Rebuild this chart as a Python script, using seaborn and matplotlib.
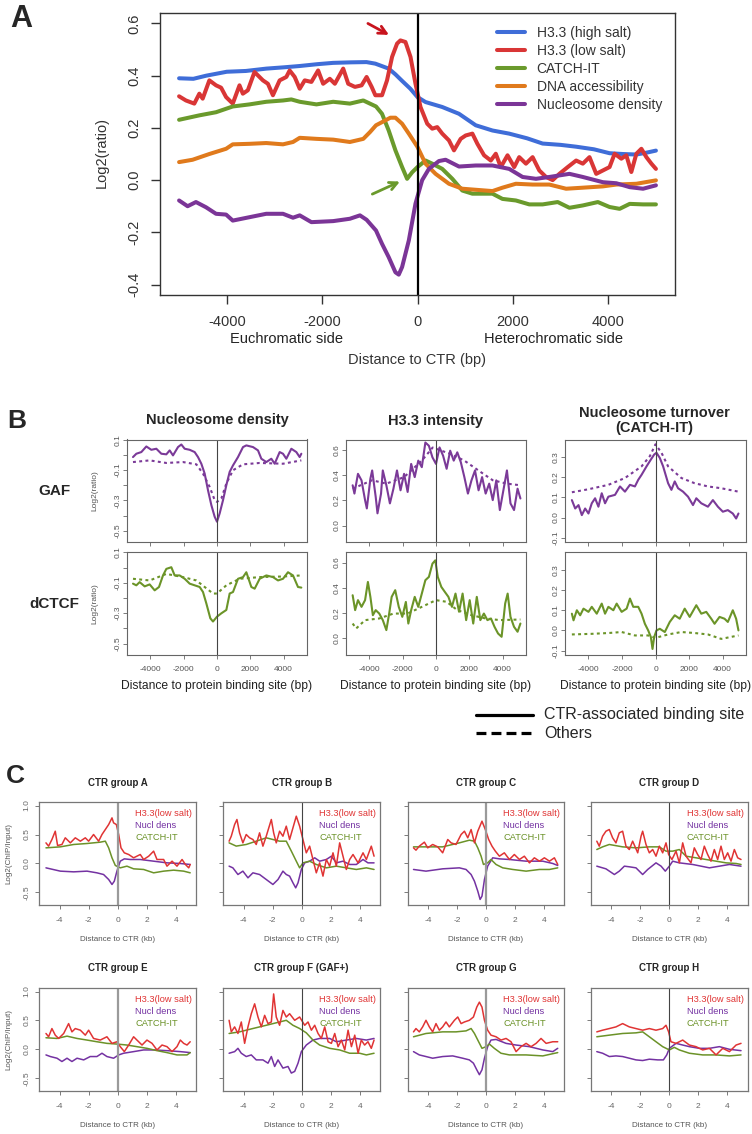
import matplotlib
matplotlib.use("Agg")
import matplotlib.pyplot as plt
from matplotlib.lines import Line2D
import seaborn as sns

# ---------------- Panel A : profiles around CTR (bp, log2 ratio) ----------------
a_blue_x = [-5000, -4700, -4430, -4000, -3600, -3170, -2800, -2470, -2100, -1770, -1400, -1070, -884, -604, -463,
            -323, -150, 0, 168, 519, 870, 1221, 1572, 1923, 2300, 2624, 3000, 3326, 3700, 4028, 4300, 4589, 4800, 5000]
a_blue_y = [0.39, 0.388, 0.40, 0.415, 0.418, 0.427, 0.432, 0.437, 0.444, 0.449, 0.451, 0.452, 0.446, 0.427, 0.405,
            0.38, 0.35, 0.318, 0.299, 0.28, 0.254, 0.21, 0.19, 0.178, 0.16, 0.14, 0.135, 0.128, 0.118, 0.103, 0.1,
            0.098, 0.105, 0.113]

a_red_x = [-5000, -4856, -4681, -4575, -4505, -4365, -4225, -4119, -4014, -3874, -3733, -3663, -3558, -3418, -3242,
           -3137, -3032, -2891, -2751, -2681, -2575, -2470, -2365, -2225, -2084, -1979, -1839, -1733, -1558, -1453,
           -1312, -1172, -1067, -961, -884, -744, -639, -533, -428, -358, -253, -147, -42, 63, 204, 309, 414, 519,
           660, 765, 905, 1011, 1151, 1256, 1396, 1537, 1642, 1747, 1888, 2028, 2133, 2274, 2414, 2554, 2695, 2835,
           2976, 3151, 3327, 3467, 3607, 3748, 3888, 4028, 4134, 4274, 4379, 4484, 4590, 4695, 4800, 4905, 5000]
a_red_y = [0.321, 0.305, 0.293, 0.331, 0.312, 0.382, 0.363, 0.354, 0.318, 0.293, 0.363, 0.331, 0.344, 0.414, 0.382,
           0.369, 0.325, 0.382, 0.395, 0.42, 0.395, 0.35, 0.382, 0.376, 0.42, 0.369, 0.388, 0.369, 0.427, 0.369,
           0.357, 0.363, 0.395, 0.357, 0.325, 0.325, 0.382, 0.472, 0.523, 0.535, 0.529, 0.472, 0.369, 0.28, 0.216,
           0.197, 0.203, 0.178, 0.152, 0.114, 0.158, 0.171, 0.178, 0.139, 0.095, 0.075, 0.101, 0.05, 0.095, 0.05,
           0.088, 0.063, 0.088, 0.037, 0.012, 0.0, 0.024, 0.05, 0.075, 0.063, 0.088, 0.024, 0.037, 0.05, 0.101,
           0.082, 0.095, 0.031, 0.101, 0.12, 0.088, 0.063, 0.043]

a_green_x = [-5000, -4575, -4225, -3874, -3523, -3172, -2821, -2646, -2470, -2119, -1768, -1418, -1137, -870, -744,
             -604, -463, -323, -218, -112, 0, 168, 309, 519, 730, 940, 1151, 1361, 1572, 1782, 2063, 2344, 2625,
             2940, 3186, 3467, 3783, 4028, 4239, 4450, 4730, 5000]
a_green_y = [0.231, 0.248, 0.26, 0.282, 0.29, 0.30, 0.305, 0.309, 0.30, 0.29, 0.30, 0.293, 0.305, 0.282, 0.254,
             0.19, 0.114, 0.05, 0.005, 0.03, 0.05, 0.075, 0.063, 0.043, 0.005, -0.04, -0.052, -0.052, -0.052,
             -0.072, -0.078, -0.093, -0.093, -0.084, -0.106, -0.097, -0.084, -0.103, -0.11, -0.091, -0.093, -0.093]

a_orange_x = [-5000, -4716, -4365, -4014, -3874, -3523, -3172, -2821, -2611, -2470, -2119, -1768, -1418, -1137, -996,
              -870, -744, -569, -463, -323, -182, 0, 168, 379, 660, 940, 1221, 1572, 1782, 2063, 2414, 2765, 3116,
              3467, 3888, 4169, 4590, 5000]
a_orange_y = [0.069, 0.078, 0.10, 0.12, 0.137, 0.139, 0.142, 0.137, 0.146, 0.162, 0.158, 0.155, 0.146, 0.158, 0.184,
              0.21, 0.222, 0.239, 0.239, 0.216, 0.178, 0.127, 0.063, 0.024, -0.014, -0.033, -0.037, -0.042, -0.029,
              -0.014, -0.017, -0.017, -0.033, -0.029, -0.024, -0.017, -0.014, -0.001]

a_purple_x = [-5000, -4821, -4646, -4435, -4225, -4014, -3874, -3523, -3172, -2821, -2611, -2470, -2225, -1768, -1418,
              -1207, -1067, -870, -744, -604, -463, -393, -323, -182, -42, 98, 239, 449, 589, 870, 1221, 1572, 1923,
              2204, 2484, 2765, 3186, 3467, 3888, 4169, 4450, 4730, 5000]
a_purple_y = [-0.078, -0.10, -0.084, -0.104, -0.129, -0.132, -0.155, -0.142, -0.129, -0.129, -0.144, -0.135, -0.161,
              -0.157, -0.148, -0.135, -0.152, -0.193, -0.244, -0.295, -0.353, -0.362, -0.333, -0.231, -0.09, 0.0,
              0.043, 0.073, 0.078, 0.052, 0.056, 0.056, 0.043, 0.012, 0.005, 0.012, 0.024, 0.012, -0.008, -0.012,
              -0.027, -0.033, -0.02]

a_labels = ["H3.3 (high salt)", "H3.3 (low salt)", "CATCH-IT", "DNA accessibility", "Nucleosome density"]
a_colors = ["#3F6DD8", "#D93636", "#6A9A2C", "#E07A1C", "#7B3597"]

# ---------------- Panel B : binding-site profiles (bp) ----------------
# GAF, nucleosome density
b_gn_x = [-5040, -4840, -4540, -4240, -3940, -3640, -3340, -3040, -2840, -2640, -2340, -2140, -1940, -1640, -1340,
          -1140, -940, -740, -540, -340, -140, 0, 160, 360, 560, 760, 960, 1260, 1560, 1760, 2160, 2460, 2660, 2960,
          3260, 3460, 3760, 3960, 4160, 4460, 4760, 4960, 5060]
b_gn_y = [-0.014, 0.008, 0.019, 0.056, 0.034, 0.041, 0.008, 0.004, 0.030, -0.003, 0.052, 0.069, 0.041, 0.034, 0.019,
          -0.014, -0.058, -0.123, -0.233, -0.331, -0.408, -0.441, -0.386, -0.299, -0.2, -0.112, -0.069, -0.014,
          0.052, 0.063, 0.052, 0.030, -0.025, -0.047, -0.025, -0.058, 0.019, 0.008, -0.025, 0.041, 0.019, -0.014,
          0.008]
b_gn_dx = [-5040, -4040, -3040, -2040, -1240, -840, -440, -140, 0, 260, 560, 960, 1560, 2560, 3960, 5060]
b_gn_dy = [-0.047, -0.036, -0.053, -0.047, -0.062, -0.123, -0.211, -0.298, -0.31, -0.288, -0.189, -0.101, -0.062,
           -0.053, -0.058, -0.036]
# dCTCF, nucleosome density
b_cn_x = [-5040, -4840, -4640, -4340, -4040, -3740, -3480, -3240, -3040, -2740, -2540, -2240, -1940, -1640, -1340,
          -1040, -840, -640, -400, -240, 0, 260, 560, 760, 960, 1260, 1560, 1760, 2060, 2260, 2560, 2960, 3360,
          3660, 3960, 4260, 4560, 4860, 5060]
b_cn_y = [-0.106, -0.117, -0.096, -0.124, -0.111, -0.150, -0.128, -0.052, -0.009, 0.002, -0.052, -0.052, -0.074,
          -0.106, -0.117, -0.128, -0.161, -0.236, -0.334, -0.355, -0.323, -0.301, -0.279, -0.171, -0.161, -0.074,
          -0.063, -0.031, -0.128, -0.139, -0.074, -0.052, -0.063, -0.085, -0.074, -0.031, -0.052, -0.128, -0.132]
b_cn_dx = [-5040, -4040, -3040, -2040, -1240, -740, -240, 0, 560, 1360, 2560, 3960, 5060]
b_cn_dy = [-0.074, -0.085, -0.042, -0.063, -0.085, -0.128, -0.171, -0.171, -0.117, -0.074, -0.063, -0.059, -0.052]
# GAF, H3.3 intensity
b_gh_x = [-5001, -4894, -4682, -4469, -4256, -4150, -3937, -3830, -3618, -3511, -3298, -3192, -2979, -2766, -2554,
          -2341, -2128, -1915, -1702, -1490, -1277, -1064, -851, -638, -426, -213, 0, 213, 426, 638, 851, 1064, 1277,
          1490, 1702, 1915, 2128, 2341, 2554, 2766, 2979, 3192, 3405, 3618, 3830, 4043, 4256, 4469, 4682, 4894, 5065]
b_gh_y = [0.320, 0.254, 0.411, 0.359, 0.202, 0.136, 0.372, 0.438, 0.228, 0.097, 0.254, 0.438, 0.320, 0.176, 0.293,
          0.438, 0.280, 0.411, 0.267, 0.490, 0.385, 0.516, 0.464, 0.660, 0.634, 0.542, 0.490, 0.621, 0.555, 0.451,
          0.595, 0.516, 0.582, 0.503, 0.385, 0.254, 0.359, 0.438, 0.280, 0.385, 0.254, 0.333, 0.202, 0.359, 0.123,
          0.280, 0.438, 0.176, 0.123, 0.293, 0.215]
b_gh_dx = [-5001, -3830, -2979, -1915, -851, -200, 851, 1702, 2554, 3405, 4256, 5065]
b_gh_dy = [0.293, 0.36, 0.333, 0.385, 0.516, 0.62, 0.57, 0.516, 0.437, 0.36, 0.333, 0.32]
# dCTCF, H3.3 intensity
b_ch_x = [-5001, -4852, -4682, -4469, -4256, -4086, -3937, -3788, -3618, -3405, -3192, -2979, -2809, -2660, -2447,
          -2234, -2022, -1809, -1660, -1490, -1277, -1064, -851, -638, -426, -213, -43, 106, 319, 532, 745, 958,
          1170, 1383, 1596, 1809, 2022, 2234, 2447, 2660, 2873, 3086, 3298, 3511, 3724, 3937, 4150, 4299, 4469,
          4682, 4894, 5065]
b_ch_y = [0.342, 0.224, 0.303, 0.250, 0.303, 0.447, 0.329, 0.184, 0.224, 0.197, 0.145, 0.066, 0.197, 0.329, 0.382,
          0.250, 0.171, 0.289, 0.118, 0.224, 0.329, 0.250, 0.355, 0.461, 0.487, 0.592, 0.618, 0.487, 0.408, 0.368,
          0.329, 0.250, 0.355, 0.211, 0.355, 0.145, 0.303, 0.118, 0.329, 0.145, 0.197, 0.145, 0.158, 0.092, 0.039,
          0.013, 0.276, 0.355, 0.171, 0.092, 0.053, 0.118]
b_ch_dx = [-5001, -4788, -4256, -3405, -2553, -1702, -851, 0, 638, 1277, 2128, 2979, 3830, 5065]
b_ch_dy = [0.118, 0.079, 0.145, 0.158, 0.197, 0.197, 0.25, 0.303, 0.29, 0.224, 0.184, 0.158, 0.145, 0.15]
# GAF, CATCH-IT
b_gt_x = [-4990, -4792, -4594, -4396, -4198, -4000, -3802, -3604, -3406, -3208, -3010, -2812, -2416, -2119, -1822,
          -1525, -1228, -1030, -832, -535, -277, -79, 59, 257, 455, 752, 950, 1148, 1346, 1643, 1940, 2237, 2435,
          2732, 3128, 3425, 3722, 4019, 4316, 4613, 4811, 4950]
b_gt_y = [0.087, 0.045, 0.062, 0.012, 0.045, 0.020, 0.071, 0.096, 0.054, 0.121, 0.071, 0.104, 0.113, 0.155, 0.129,
          0.163, 0.155, 0.188, 0.213, 0.255, 0.289, 0.314, 0.323, 0.297, 0.255, 0.171, 0.138, 0.180, 0.146, 0.129,
          0.104, 0.062, 0.096, 0.071, 0.054, 0.087, 0.054, 0.029, 0.037, 0.020, -0.005, 0.020]
b_gt_dx = [-4990, -4000, -2812, -1822, -832, -337, 0, 356, 752, 1544, 2336, 3128, 3920, 4950]
b_gt_dy = [0.126, 0.141, 0.163, 0.197, 0.255, 0.306, 0.365, 0.323, 0.255, 0.197, 0.171, 0.155, 0.146, 0.129]
# dCTCF, CATCH-IT
b_ct_x = [-4990, -4891, -4693, -4495, -4297, -4000, -3802, -3505, -3208, -3010, -2812, -2515, -2317, -2020, -1723,
          -1525, -1327, -1030, -832, -634, -436, -277, -178, -79, 59, 257, 554, 851, 1148, 1445, 1742, 2039, 2435,
          2732, 3029, 3326, 3524, 3821, 4118, 4316, 4613, 4811, 4950]
b_ct_y = [0.083, 0.05, 0.1, 0.075, 0.108, 0.092, 0.117, 0.083, 0.133, 0.083, 0.117, 0.1, 0.133, 0.092, 0.108, 0.158,
          0.117, 0.117, 0.083, 0.033, 0.0, -0.033, -0.092, -0.033, 0.0, 0.008, -0.008, 0.042, 0.075, 0.058, 0.108,
          0.067, 0.125, 0.083, 0.092, 0.058, 0.033, 0.067, 0.058, 0.042, 0.1, 0.058, 0.0]
b_ct_dx = [-4990, -3802, -2812, -2020, -1228, -436, 0, 752, 1544, 2336, 3128, 3920, 4950]
b_ct_dy = [-0.02, -0.017, -0.013, -0.008, -0.025, -0.025, -0.037, -0.02, -0.008, -0.013, -0.02, -0.042, -0.025]

b_titles = ["Nucleosome density", "H3.3 intensity", "Nucleosome turnover\n(CATCH-IT)"]
b_rows_lab = ["GAF", "dCTCF"]
b_colors = ["#7B3A98", "#6B9428"]

# ---------------- Panel C : CTR groups (kb, log2 ChIP/Input) ----------------
c_A_h_x = [-4.94, -4.76, -4.53, -4.30, -4.14, -3.84, -3.61, -3.26, -2.92, -2.57, -2.23, -2.00, -1.66, -1.31, -1.08,
           -0.85, -0.62, -0.39, -0.28, -0.09, 0.07, 0.23, 0.46, 0.76, 1.10, 1.56, 1.79, 2.14, 2.48, 2.71, 3.17, 3.40,
           3.75, 4.09, 4.44, 4.67, 4.90, 5.0]
c_A_h_y = [0.356, 0.299, 0.414, 0.557, 0.310, 0.328, 0.443, 0.356, 0.443, 0.385, 0.443, 0.385, 0.5, 0.385, 0.5,
           0.586, 0.672, 0.787, 0.701, 0.672, 0.5, 0.270, 0.184, 0.155, 0.098, 0.155, 0.069, 0.126, 0.213, 0.069,
           0.069, -0.046, 0.040, -0.046, 0.069, -0.017, -0.075, -0.017]
c_A_t_x = [-4.94, -3.95, -3.03, -2.11, -1.20, -0.85, -0.62, -0.39, -0.16, 0.18, 0.64, 1.10, 1.79, 2.48, 3.17, 3.86,
           4.55, 5.0]
c_A_t_y = [0.27, 0.287, 0.328, 0.345, 0.368, 0.385, 0.27, 0.098, -0.034, -0.075, -0.046, -0.092, -0.103, -0.161,
           -0.132, -0.115, -0.132, -0.161]
c_A_n_x = [-4.94, -3.95, -3.03, -2.11, -1.43, -0.97, -0.62, -0.39, -0.23, -0.05, 0.18, 0.46, 0.87, 1.56, 2.48, 3.40,
           4.32, 5.0]
c_A_n_y = [-0.075, -0.132, -0.144, -0.132, -0.161, -0.19, -0.276, -0.362, -0.305, -0.132, 0.04, 0.08, 0.069, 0.069,
           0.04, 0.011, 0.0, -0.017]

c_B_h_x = [-5.0, -4.85, -4.62, -4.46, -4.28, -4.05, -3.82, -3.59, -3.36, -3.13, -2.90, -2.67, -2.44, -2.09, -1.93,
           -1.75, -1.52, -1.29, -1.06, -0.83, -0.60, -0.37, -0.14, 0.09, 0.32, 0.55, 0.78, 1.01, 1.24, 1.47, 1.70,
           1.93, 2.16, 2.39, 2.62, 2.85, 3.08, 3.31, 3.54, 3.89, 4.23, 4.46, 4.80, 4.99]
c_B_h_y = [0.385, 0.471, 0.672, 0.759, 0.529, 0.356, 0.5, 0.443, 0.414, 0.328, 0.529, 0.299, 0.471, 0.759, 0.529,
           0.356, 0.557, 0.471, 0.644, 0.414, 0.615, 0.816, 0.644, 0.414, 0.184, 0.299, 0.069, -0.161, 0.011,
           -0.218, 0.069, -0.046, 0.184, -0.046, 0.356, 0.126, -0.103, 0.069, 0.155, 0.011, 0.184, 0.069, 0.299,
           0.126]
c_B_t_x = [-5.0, -4.51, -3.82, -3.13, -2.44, -1.98, -1.52, -1.06, -0.71, -0.37, -0.14, 0.09, 0.55, 1.01, 1.70, 2.39,
           3.08, 3.77, 4.46, 4.99]
c_B_t_y = [0.356, 0.3, 0.328, 0.385, 0.443, 0.414, 0.385, 0.385, 0.213, 0.04, -0.075, 0.011, 0.04, -0.017, -0.075,
           -0.046, -0.075, -0.103, -0.075, -0.103]
c_B_n_x = [-5.0, -4.74, -4.39, -4.05, -3.70, -3.36, -2.90, -2.44, -1.98, -1.63, -1.29, -1.06, -0.83, -0.60, -0.41,
           -0.25, -0.02, 0.21, 0.55, 0.90, 1.24, 1.70, 2.05, 2.39, 2.85, 3.31, 3.77, 4.23, 4.57, 4.99]
c_B_n_y = [-0.046, -0.075, -0.19, -0.132, -0.247, -0.161, -0.19, -0.276, -0.362, -0.276, -0.132, -0.19, -0.218,
           -0.333, -0.42, -0.333, -0.103, 0.011, 0.04, 0.098, 0.04, 0.069, 0.126, 0.011, 0.04, -0.017, -0.017, 0.069,
           0.011, 0.011]

c_C_h_x = [-5.0, -4.83, -4.60, -4.25, -4.02, -3.68, -3.33, -2.99, -2.64, -2.41, -2.07, -1.72, -1.49, -1.26, -1.03,
           -0.80, -0.57, -0.28, -0.05, 0.18, 0.41, 0.64, 0.92, 1.26, 1.61, 1.95, 2.30, 2.64, 2.99, 3.33, 3.68, 4.02,
           4.37, 4.71, 4.94]
c_C_h_y = [0.27, 0.23, 0.299, 0.368, 0.27, 0.328, 0.287, 0.184, 0.414, 0.356, 0.328, 0.5, 0.557, 0.443, 0.586,
           0.356, 0.557, 0.73, 0.586, 0.414, 0.299, 0.213, 0.126, 0.184, 0.069, 0.155, 0.069, 0.126, 0.011, 0.098,
           0.04, 0.098, 0.04, 0.098, -0.017]
c_C_t_x = [-5.0, -4.14, -2.99, -1.84, -1.15, -0.80, -0.57, -0.34, -0.18, 0.11, 0.34, 0.69, 1.15, 1.84, 2.76, 3.68,
           4.37, 4.94]
c_C_t_y = [0.287, 0.287, 0.287, 0.356, 0.402, 0.385, 0.27, 0.126, -0.017, 0.011, 0.069, -0.017, -0.075, -0.103,
           -0.132, -0.103, -0.103, -0.075]
c_C_n_x = [-5.0, -4.14, -2.99, -1.84, -1.38, -1.03, -0.80, -0.57, -0.41, -0.28, -0.11, 0.11, 0.46, 0.92, 1.61, 2.76,
           3.91, 4.60, 4.94]
c_C_n_y = [-0.103, -0.132, -0.092, -0.075, -0.103, -0.19, -0.305, -0.477, -0.62, -0.563, -0.276, -0.046, 0.098,
           0.08, 0.069, 0.04, 0.04, 0.0, -0.034]

c_D_h_x = [-5.0, -4.83, -4.60, -4.37, -4.14, -3.91, -3.68, -3.45, -3.22, -2.99, -2.76, -2.53, -2.18, -1.95, -1.84,
           -1.61, -1.38, -1.15, -0.92, -0.69, -0.46, -0.23, -0.05, 0.18, 0.46, 0.69, 0.92, 1.15, 1.49, 1.72, 1.95,
           2.18, 2.41, 2.64, 2.87, 3.10, 3.33, 3.56, 3.79, 4.02, 4.25, 4.48, 4.71, 4.94]
c_D_h_y = [0.385, 0.299, 0.471, 0.557, 0.586, 0.443, 0.356, 0.529, 0.557, 0.299, 0.241, 0.385, 0.184, 0.471, 0.557,
           0.328, 0.184, 0.241, 0.126, 0.299, 0.184, 0.356, 0.155, 0.069, 0.213, 0.011, 0.356, 0.126, 0.011, 0.270,
           0.155, 0.069, 0.299, 0.155, 0.040, 0.241, 0.069, 0.299, 0.069, 0.184, 0.040, 0.241, 0.098, 0.069]
c_D_t_x = [-5.0, -4.60, -4.14, -3.22, -2.30, -1.38, -0.69, -0.23, 0.23, 0.69, 1.15, 1.84, 2.53, 3.22, 3.91, 4.60,
           4.94]
c_D_t_y = [0.241, 0.287, 0.328, 0.287, 0.27, 0.287, 0.287, 0.213, 0.213, 0.241, 0.126, 0.098, 0.069, 0.04, 0.011,
           0.0, -0.017]
c_D_n_x = [-5.0, -4.37, -3.79, -3.45, -3.10, -2.76, -2.30, -1.84, -1.49, -0.92, -0.57, -0.28, 0.0, 0.23, 0.69, 1.61,
           2.76, 3.45, 4.14, 4.94]
c_D_n_y = [-0.046, -0.092, -0.19, -0.132, -0.046, -0.057, -0.075, -0.19, -0.103, 0.011, -0.046, -0.132, -0.046,
           0.04, 0.011, -0.017, -0.075, -0.046, -0.017, -0.046]

c_E_h_x = [-4.94, -4.76, -4.53, -4.30, -4.07, -3.72, -3.38, -3.15, -2.92, -2.57, -2.23, -2.00, -1.66, -1.20, -0.74,
           -0.39, -0.05, 0.18, 0.46, 0.76, 1.10, 1.33, 1.68, 2.02, 2.37, 2.71, 3.06, 3.40, 3.75, 4.09, 4.32, 4.55,
           4.78, 5.0]
c_E_h_y = [0.274, 0.217, 0.359, 0.245, 0.188, 0.274, 0.445, 0.302, 0.359, 0.331, 0.245, 0.331, 0.188, 0.160, 0.217,
           0.103, 0.131, 0.046, -0.040, 0.074, 0.217, 0.160, 0.074, 0.160, 0.103, -0.011, 0.074, 0.046, -0.040, 0.046,
           0.160, 0.103, 0.074, 0.131]
c_E_t_x = [-4.94, -4.18, -3.49, -2.80, -2.11, -1.43, -0.74, -0.05, 0.64, 1.33, 2.02, 2.71, 3.40, 4.09, 4.78, 5.0]
c_E_t_y = [0.2, 0.188, 0.228, 0.188, 0.16, 0.131, 0.103, 0.091, 0.074, 0.046, 0.017, -0.023, -0.057, -0.097,
           -0.097, -0.057]
c_E_n_x = [-4.94, -4.64, -4.18, -3.84, -3.49, -3.15, -2.80, -2.34, -1.89, -1.43, -1.08, -0.74, -0.28, 0.07, 0.41,
           1.10, 1.79, 2.48, 3.40, 4.32, 5.0]
c_E_n_y = [-0.097, -0.125, -0.154, -0.211, -0.154, -0.211, -0.154, -0.183, -0.125, -0.125, -0.068, -0.125, -0.154,
           -0.097, -0.068, -0.04, -0.011, -0.011, -0.023, -0.04, -0.057]

c_F_h_x = [-5.0, -4.85, -4.62, -4.39, -4.16, -3.93, -3.70, -3.47, -3.24, -3.01, -2.78, -2.55, -2.32, -2.09, -1.93,
           -1.75, -1.52, -1.29, -1.06, -0.83, -0.48, -0.14, 0.21, 0.44, 0.67, 0.90, 1.13, 1.36, 1.59, 1.82, 2.05,
           2.28, 2.51, 2.74, 2.97, 3.20, 3.43, 3.66, 3.89, 4.11, 4.34, 4.57, 4.80, 4.99]
c_F_h_y = [0.502, 0.302, 0.388, 0.274, 0.473, 0.103, 0.388, 0.616, 0.787, 0.559, 0.388, 0.588, 0.445, 0.473, 0.958,
           0.559, 0.416, 0.673, 0.559, 0.616, 0.502, 0.559, 0.416, 0.473, 0.331, 0.416, 0.274, 0.188, 0.388, 0.131,
           0.103, 0.274, 0.046, 0.160, -0.011, 0.331, 0.046, 0.245, -0.068, 0.160, 0.074, 0.131, 0.017, 0.160]
c_F_t_x = [-5.0, -4.28, -3.36, -2.44, -1.52, -1.06, -0.60, -0.14, 0.32, 0.78, 1.24, 1.93, 2.62, 3.31, 4.00, 4.46,
           4.99]
c_F_t_y = [0.274, 0.302, 0.36, 0.416, 0.473, 0.502, 0.416, 0.36, 0.285, 0.16, 0.074, 0.017, -0.011, -0.068, -0.068,
           -0.097, -0.068]
c_F_n_x = [-5.0, -4.62, -4.39, -4.16, -3.82, -3.47, -3.13, -2.67, -2.32, -2.09, -1.86, -1.63, -1.29, -0.94, -0.71,
           -0.48, -0.25, -0.02, 0.32, 0.78, 1.24, 1.93, 2.39, 3.08, 3.77, 4.46, 4.99]
c_F_n_y = [-0.068, -0.04, 0.017, -0.068, -0.125, -0.097, -0.183, -0.183, -0.24, -0.125, -0.297, -0.183, -0.325,
           -0.297, -0.411, -0.382, -0.24, -0.04, 0.074, 0.16, 0.188, 0.188, 0.131, 0.16, 0.188, 0.16, 0.188]

c_G_h_x = [-5.0, -4.83, -4.60, -4.37, -4.14, -3.91, -3.68, -3.45, -3.22, -2.99, -2.76, -2.53, -2.18, -1.95, -1.72,
           -1.49, -1.15, -0.87, -0.64, -0.46, -0.28, -0.11, 0.11, 0.34, 0.69, 1.03, 1.38, 1.72, 2.07, 2.41, 2.76,
           3.10, 3.45, 3.79, 4.14, 4.60, 4.94]
c_G_h_y = [0.302, 0.359, 0.302, 0.388, 0.502, 0.388, 0.302, 0.445, 0.331, 0.388, 0.473, 0.388, 0.502, 0.559, 0.445,
           0.473, 0.502, 0.559, 0.730, 0.816, 0.730, 0.502, 0.331, 0.245, 0.217, 0.160, 0.188, 0.131, -0.040, 0.046,
           0.103, 0.046, 0.103, 0.188, 0.103, 0.131, 0.131]
c_G_t_x = [-5.0, -4.14, -2.99, -2.07, -1.38, -1.03, -0.80, -0.57, -0.28, 0.0, 0.23, 0.57, 1.03, 1.61, 2.76, 3.91,
           4.94]
c_G_t_y = [0.217, 0.274, 0.302, 0.302, 0.319, 0.36, 0.274, 0.16, 0.017, 0.046, 0.091, 0.017, -0.068, -0.097, -0.097,
           -0.114, -0.057]
c_G_n_x = [-5.0, -4.60, -4.14, -3.68, -2.99, -2.30, -1.61, -1.15, -0.87, -0.64, -0.46, -0.28, -0.11, 0.11, 0.34,
           0.69, 1.38, 2.07, 2.99, 3.91, 4.60, 4.94]
c_G_n_y = [-0.04, -0.097, -0.125, -0.154, -0.125, -0.114, -0.154, -0.183, -0.24, -0.354, -0.439, -0.354, -0.154,
           0.046, 0.16, 0.171, 0.103, 0.074, 0.046, -0.011, -0.04, 0.017]

c_H_h_x = [-5.0, -4.60, -4.14, -3.68, -3.22, -2.76, -2.30, -1.84, -1.38, -0.92, -0.46, -0.23, -0.05, 0.11, 0.46,
           0.92, 1.38, 1.84, 2.30, 2.76, 3.22, 3.68, 4.14, 4.60, 4.94]
c_H_h_y = [0.302, 0.331, 0.359, 0.388, 0.445, 0.388, 0.359, 0.331, 0.359, 0.331, 0.359, 0.416, 0.302, 0.131, 0.103,
           0.160, 0.074, 0.046, -0.011, 0.017, -0.097, 0.017, -0.040, 0.074, 0.103]
c_H_t_x = [-5.0, -4.14, -3.22, -2.30, -1.84, -1.38, -0.92, -0.46, 0.0, 0.34, 0.69, 1.38, 2.30, 3.22, 4.14, 4.94]
c_H_t_y = [0.217, 0.245, 0.274, 0.285, 0.302, 0.217, 0.131, 0.046, -0.011, 0.034, -0.011, -0.068, -0.097, -0.097,
           -0.114, -0.097]
c_H_n_x = [-5.0, -4.60, -4.14, -3.68, -3.22, -2.76, -2.30, -1.84, -1.38, -0.80, -0.41, -0.18, 0.0, 0.46, 0.92, 1.38,
           2.07, 2.76, 3.45, 4.14, 4.94]
c_H_n_y = [-0.04, -0.068, -0.125, -0.114, -0.125, -0.154, -0.183, -0.194, -0.171, -0.183, -0.183, -0.097, 0.017,
           0.103, 0.074, 0.046, 0.017, 0.017, 0.046, 0.0, -0.023]

c_titles = ["CTR group A", "CTR group B", "CTR group C", "CTR group D",
            "CTR group E", "CTR group F (GAF+)", "CTR group G", "CTR group H"]
c_colors = {"h": "#E03434", "n": "#7432A2", "t": "#6B9228"}
c_text = [("H3.3(low salt)", "h"), ("Nucl dens", "n"), ("CATCH-IT", "t")]

# ---------------- drawing ----------------
sns.set_style("ticks")
plt.rcParams['font.family'] = ['Liberation Sans', 'DejaVu Sans']

W, H = 752, 1134
fig = plt.figure(figsize=(W / 100, H / 100), dpi=100)


def px_axes(l, t, r, b):
    return fig.add_axes([l / W, 1 - b / H, (r - l) / W, (b - t) / H])


def ftext(x, y, s, **kw):
    fig.text(x / W, 1 - y / H, s, **kw)


def curve(ax, x, y, color, lw, ls="-", label=None):
    sns.lineplot(x=x, y=y, ax=ax, color=color, linewidth=lw, linestyle=ls,
                 estimator=None, sort=False, label=label)


def frame(ax, color, lw):
    for sp in ax.spines.values():
        sp.set_color(color)
        sp.set_linewidth(lw)


# ---- Panel A ----
axA = px_axes(160, 13, 675, 295)
for xs, ys, c, lab in zip([a_blue_x, a_red_x, a_green_x, a_orange_x, a_purple_x],
                          [a_blue_y, a_red_y, a_green_y, a_orange_y, a_purple_y], a_colors, a_labels):
    curve(axA, xs, ys, c, 2.9, label=lab)
axA.axvline(0, color="black", lw=1.6)
axA.set_xlim(-5400, 5400)
axA.set_ylim(-0.44, 0.64)
axA.set_xticks([-4000, -2000, 0, 2000, 4000])
axA.set_xticklabels(["-4000", "-2000", "0", "2000", "4000"])
axA.set_yticks([-0.4, -0.2, 0.0, 0.2, 0.4, 0.6])
axA.set_yticklabels(["-0.4", "-0.2", "0.0", "0.2", "0.4", "0.6"], rotation=90, va="center")
axA.tick_params(axis="both", length=6.5, width=1, color="#333333", labelsize=10.5, labelcolor="#333333")
axA.tick_params(axis="x", pad=8)
axA.tick_params(axis="y", pad=7)
frame(axA, "#333333", 1.0)
axA.set_xlabel("")
axA.set_ylabel("")
axA.legend(loc="upper left", bbox_to_anchor=(497 / W, 1 - 26 / H), bbox_transform=fig.transFigure,
           frameon=False, fontsize=10, handlelength=2.0, handletextpad=0.85, labelspacing=0.28,
           borderpad=0, borderaxespad=0, labelcolor="#333333")
axA.annotate("", xy=(-546, 0.551), xytext=(-1091, 0.605),
             arrowprops=dict(arrowstyle="->", color="#C8141E", lw=2.0, mutation_scale=14))
axA.annotate("", xy=(-315, -0.001), xytext=(-1000, -0.058),
             arrowprops=dict(arrowstyle="->", color="#6A9A2C", lw=2.0, mutation_scale=14))

ftext(102, 152, "Log2(ratio)", rotation=90, ha="center", va="center", fontsize=10.5, color="#333333")
ftext(287, 339, "Euchromatic side", ha="center", va="center", fontsize=10.5, color="#222222")
ftext(553, 339, "Heterochromatic side", ha="center", va="center", fontsize=10.5, color="#222222")
ftext(417, 360, "Distance to CTR (bp)", ha="center", va="center", fontsize=10.5, color="#333333")
ftext(10, 27, "A", fontsize=22, fontweight="bold", ha="left", va="baseline")

# ---- Panel B ----
b_cols = [(127, 307), (346, 526), (565, 746)]
b_rows = [(439.5, 542), (552, 655)]
b_ylims = [(-0.575, 0.102), (-0.131, 0.684), (-0.122, 0.389)]
b_yticks = [[0.1, 0.0, -0.1, -0.2, -0.3, -0.4, -0.5], [0.0, 0.2, 0.4, 0.6], [-0.1, 0.0, 0.1, 0.2, 0.3]]
b_ylabs = [["0.1", "", "-0.1", "", "-0.3", "", "-0.5"], ["0.0", "0.2", "0.4", "0.6"],
           ["-0.1", "0.0", "0.1", "0.2", "0.3"]]
b_data = [[(b_gn_x, b_gn_y, b_gn_dx, b_gn_dy), (b_gh_x, b_gh_y, b_gh_dx, b_gh_dy), (b_gt_x, b_gt_y, b_gt_dx, b_gt_dy)],
          [(b_cn_x, b_cn_y, b_cn_dx, b_cn_dy), (b_ch_x, b_ch_y, b_ch_dx, b_ch_dy), (b_ct_x, b_ct_y, b_ct_dx, b_ct_dy)]]

for r, (top, bot) in enumerate(b_rows):
    for c, (lft, rgt) in enumerate(b_cols):
        ax = px_axes(lft, top, rgt, bot)
        sx, sy, dx, dy = b_data[r][c]
        curve(ax, dx, dy, b_colors[r], 1.5, ls=(0, (1.4, 1.6)))
        curve(ax, sx, sy, b_colors[r], 1.5)
        ax.axvline(0, color="#444444", lw=0.8)
        ax.set_xlim(-5400, 5400)
        ax.set_ylim(*b_ylims[c])
        ax.set_xticks([-4000, -2000, 0, 2000, 4000])
        if r == 1:
            ax.set_xticklabels(["-4000", "-2000", "0", "2000", "4000"])
        else:
            ax.set_xticklabels([])
        ax.set_yticks(b_yticks[c])
        ax.set_yticklabels(b_ylabs[c], rotation=90, va="center")
        ax.tick_params(axis="both", length=2.7, width=0.6, color="#666666", labelsize=6, labelcolor="#555555")
        ax.tick_params(axis="x", pad=5.4)
        ax.tick_params(axis="y", pad=1.5)
        frame(ax, "#666666", 0.8)
        ax.set_xlabel("")
        ax.set_ylabel("")
    ftext(95, (top + bot) / 2, "Log2(ratio)", rotation=90, ha="center", va="center", fontsize=6, color="#555555")
    ftext(54, (top + bot) / 2, b_rows_lab[r], ha="center", va="center", fontsize=11, fontweight="bold")

for c, (lft, rgt) in enumerate(b_cols):
    cx = (lft + rgt) / 2
    ftext(cx, 685.7, "Distance to protein binding site (bp)", ha="center", va="center", fontsize=8.7,
          color="#222222")
ftext(217, 420, b_titles[0], ha="center", va="center", fontsize=10.5, fontweight="bold")
ftext(436, 421, b_titles[1], ha="center", va="center", fontsize=10.5, fontweight="bold")
ftext(654, 420.5, b_titles[2], ha="center", va="center", fontsize=10.5, fontweight="bold", linespacing=1.05)
ftext(7, 428, "B", fontsize=19, fontweight="bold", ha="left", va="baseline")

# legend of panel B
fig.add_artist(Line2D([476 / W, 533 / W], [1 - 715 / H] * 2, color="black", lw=2.3,
                      transform=fig.transFigure))
fig.add_artist(Line2D([476 / W, 533 / W], [1 - 733 / H] * 2, color="black", lw=2.3, dashes=(3.1, 1.6),
                      transform=fig.transFigure))
ftext(544, 715, "CTR-associated binding site", ha="left", va="center", fontsize=11.5)
ftext(544, 733, "Others", ha="left", va="center", fontsize=11.5)

# ---- Panel C ----
c_lefts = [39.3, 223.3, 407.7, 591.0]
c_width = 156.7
c_rows = [(801.7, 905.0), (987.7, 1090.7)]
c_data = [(c_A_h_x, c_A_h_y, c_A_n_x, c_A_n_y, c_A_t_x, c_A_t_y),
          (c_B_h_x, c_B_h_y, c_B_n_x, c_B_n_y, c_B_t_x, c_B_t_y),
          (c_C_h_x, c_C_h_y, c_C_n_x, c_C_n_y, c_C_t_x, c_C_t_y),
          (c_D_h_x, c_D_h_y, c_D_n_x, c_D_n_y, c_D_t_x, c_D_t_y),
          (c_E_h_x, c_E_h_y, c_E_n_x, c_E_n_y, c_E_t_x, c_E_t_y),
          (c_F_h_x, c_F_h_y, c_F_n_x, c_F_n_y, c_F_t_x, c_F_t_y),
          (c_G_h_x, c_G_h_y, c_G_n_x, c_G_n_y, c_G_t_x, c_G_t_y),
          (c_H_h_x, c_H_h_y, c_H_n_x, c_H_n_y, c_H_t_x, c_H_t_y)]

for i, (hx, hy, nx, ny, tx, ty) in enumerate(c_data):
    r, c = divmod(i, 4)
    top, bot = c_rows[r]
    lft = c_lefts[c]
    ax = px_axes(lft, top, lft + c_width, bot)
    curve(ax, nx, ny, c_colors["n"], 1.1)
    curve(ax, tx, ty, c_colors["t"], 1.1)
    curve(ax, hx, hy, c_colors["h"], 1.1)
    if c % 2 == 0:
        ax.axvline(0, color="#9A9A9A", lw=1.6)
    else:
        ax.axvline(0, color="#444444", lw=0.8)
    ax.set_xlim(-5.4, 5.4)
    ax.set_ylim(-0.716, 1.066)
    ax.set_xticks([-4, -2, 0, 2, 4])
    ax.set_xticklabels(["-4", "-2", "0", "2", "4"])
    ax.set_yticks([-0.5, 0.0, 0.5, 1.0])
    if c == 0:
        ax.set_yticklabels(["-0.5", "0.0", "0.5", "1.0"], rotation=90, va="center")
    else:
        ax.set_yticklabels([])
    ax.tick_params(axis="both", length=2.9, width=0.6, color="#666666", labelsize=6, labelcolor="#666666")
    ax.tick_params(axis="x", pad=5.9)
    ax.tick_params(axis="y", pad=3.3)
    frame(ax, "#777777", 0.9)
    ax.set_xlabel("")
    ax.set_ylabel("")
    for k, (txt, key) in enumerate(c_text):
        ax.text(1.2, [0.855, 0.655, 0.455][k], txt, color=c_colors[key], fontsize=6.7, ha="left", va="center")
    cx = lft + c_width / 2
    ftext(cx, [783.3, 968.3][r], c_titles[i], ha="center", va="center", fontsize=7, fontweight="bold")
    ftext(cx, [939.3, 1125.7][r], "Distance to CTR (kb)", ha="center", va="center", fontsize=5.8, color="#555555")

for top, bot in c_rows:
    ftext(8.5, (top + bot) / 2, "Log2(ChIP/Input)", rotation=90, ha="center", va="center", fontsize=5.8,
          color="#555555")
ftext(6, 783, "C", fontsize=19, fontweight="bold", ha="left", va="baseline")

fig.savefig("out.png", dpi=100)
plt.close(fig)
